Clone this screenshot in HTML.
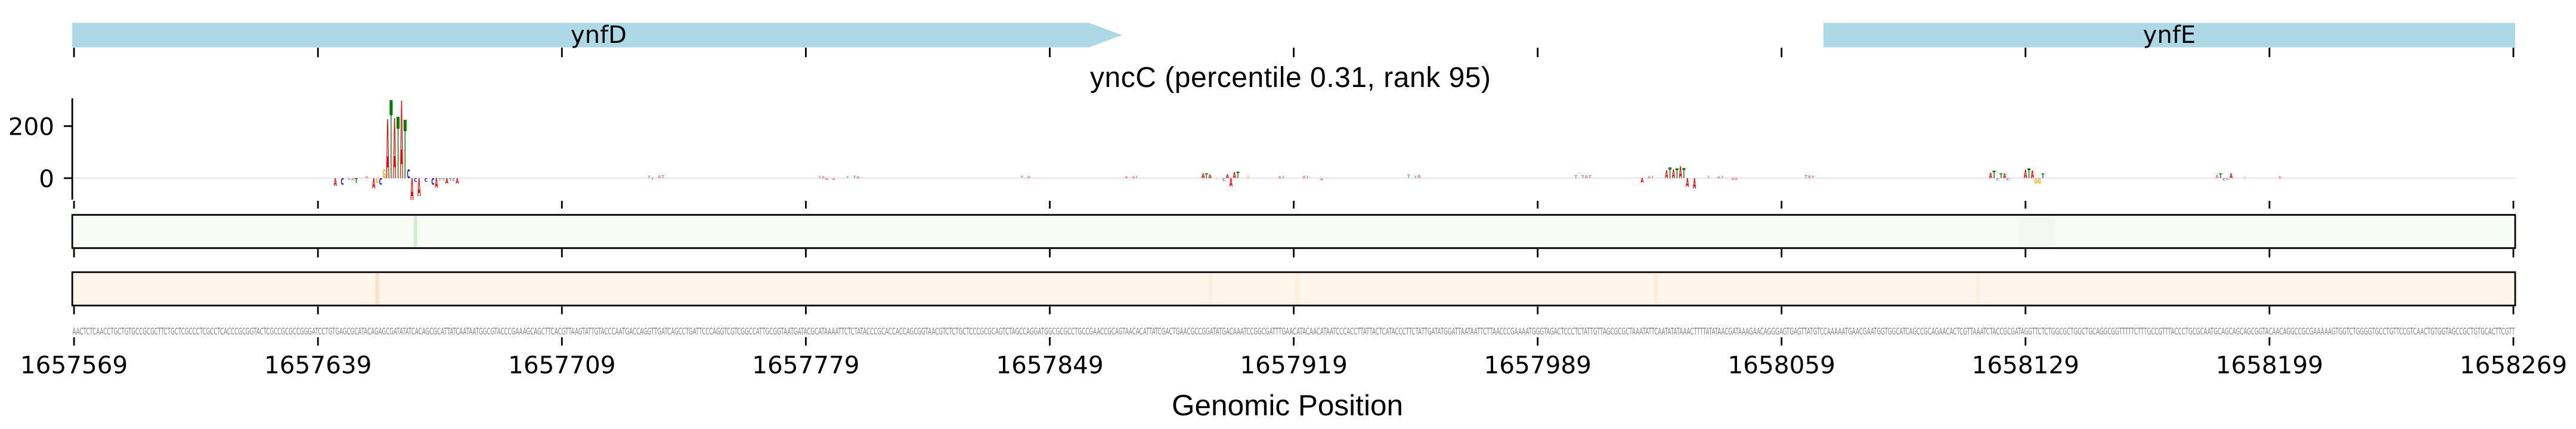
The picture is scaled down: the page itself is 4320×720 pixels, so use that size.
<!DOCTYPE html>
<html><head><meta charset="utf-8"><style>
html,body{margin:0;padding:0;background:#fff;}
svg{display:block;}
.L{font-family:"DejaVu Sans",sans-serif;font-weight:bold;font-size:10px;}
.a{fill:#ff0000}.c{fill:#0000ff}.g{fill:#ffa500}.t{fill:#008000}
.f{opacity:.55}
.tk{font-family:"DejaVu Sans",sans-serif;font-size:40.5px;fill:#000;}
.gl{font-family:"DejaVu Sans",sans-serif;font-size:40px;fill:#000;}
.ttl{font-family:"Liberation Sans",Arial,sans-serif;font-size:48px;fill:#000;}
.sq{font-family:"DejaVu Sans",sans-serif;font-size:16px;fill:#7f7f7f;}
</style></head><body>
<svg width="4320" height="720" viewBox="0 0 4320 720" xmlns="http://www.w3.org/2000/svg">
<rect x="0" y="0" width="4320" height="720" fill="#fff"/>
<!-- gene track -->
<polygon points="121.2,38.3 1826,38.3 1882,58.9 1826,79.5 121.2,79.5" fill="#add8e6"/>
<rect x="3058" y="38.3" width="1160" height="41.2" fill="#add8e6"/>
<text class="gl" x="1004" y="72" text-anchor="middle">ynfD</text>
<text class="gl" x="3638" y="72" text-anchor="middle">ynfE</text>
<path d="M124.1 80V96M533.2 80V96M942.3 80V96M1351.4 80V96M1760.5 80V96M2169.6 80V96M2578.7 80V96M2987.7 80V96M3396.8 80V96M3805.9 80V96M4215 80V96" stroke="#000" stroke-width="2.8" fill="none"/>
<!-- title -->
<text class="ttl" x="1828" y="146" textLength="672" lengthAdjust="spacing">yncC (percentile 0.31, rank 95)</text>
<!-- signal axis -->
<line x1="121.2" y1="299" x2="4218" y2="299" stroke="#e4dcee" stroke-width="1.6"/>
<path d="M121.2 165V335M107 299H121.2M107 211.7H121.2" stroke="#000" stroke-width="2.8" fill="none"/>
<text class="tk" x="91" y="226.5" text-anchor="end">200</text>
<text class="tk" x="91" y="314" text-anchor="end">0</text>
<path d="M124.1 337V350M533.2 337V350M942.3 337V350M1351.4 337V350M1760.5 337V350M2169.6 337V350M2578.7 337V350M2987.7 337V350M3396.8 337V350M3805.9 337V350M4215 337V350" stroke="#000" stroke-width="2.8" fill="none"/>
<!-- logo letters: peak -->
<g class="L">
<text class="a" transform="translate(559.8 312) scale(.672 1.78)">A</text>
<text class="c" transform="translate(571.5 310) scale(.708 1.51)">C</text>
<text class="c f" transform="translate(583.2 302) scale(.708 .41)">C</text>
<text class="a f" transform="translate(589.0 303) scale(.672 .55)">A</text>
<text class="t" transform="translate(594.9 307) scale(.761 1.10)">T</text>
<text class="a f" transform="translate(612.4 299) scale(.672 .41)">A</text>
<text class="a" transform="translate(624.1 316) scale(.672 2.33)">A</text>
<text class="g" transform="translate(629.9 307) scale(.633 1.10)">G</text>
<text class="c" transform="translate(635.8 310) scale(.708 1.51)">C</text>
<text class="g" transform="translate(641.6 299) scale(.633 1.92)">G</text>
<text class="a" transform="translate(647.5 299) scale(.672 13.58)">A</text>
<text class="t" transform="translate(653.3 299) scale(.761 17.97)">T</text>
<text class="a" transform="translate(659.1 299) scale(.672 13.85)">A</text>
<text class="t" transform="translate(665.0 299) scale(.761 14.13)">T</text>
<text class="a" transform="translate(670.8 299) scale(.672 17.83)">A</text>
<text class="t" transform="translate(676.7 299) scale(.761 13.44)">T</text>
<text class="c" transform="translate(682.5 299) scale(.708 1.92)">C</text>
<text class="a" transform="translate(688.4 336) scale(.672 5.08)">A</text>
<text class="c" transform="translate(694.2 305) scale(.708 .82)">C</text>
<text class="a" transform="translate(700.1 329) scale(.672 4.12)">A</text>
<text class="c" transform="translate(711.7 305) scale(.708 .82)">C</text>
<text class="c" transform="translate(723.4 310) scale(.708 1.51)">C</text>
<text class="a" transform="translate(729.3 315) scale(.672 2.19)">A</text>
<text class="t f" transform="translate(735.1 304) scale(.761 .69)">T</text>
<text class="t f" transform="translate(741.0 304) scale(.761 .69)">T</text>
<text class="a" transform="translate(746.8 308) scale(.672 1.23)">A</text>
<text class="t f" transform="translate(752.7 304) scale(.761 .69)">T</text>
<text class="c f" transform="translate(758.5 304) scale(.708 .69)">C</text>
<text class="a" transform="translate(764.3 308) scale(.672 1.23)">A</text>
<!-- small clusters -->
<text class="t f" transform="translate(1085.8 299) scale(.761 .55)">T</text>
<text class="t f" transform="translate(1091.6 302) scale(.761 .41)">T</text>
<text class="a f" transform="translate(1103.3 299) scale(.672 .69)">A</text>
<text class="t f" transform="translate(1109.1 299) scale(.761 .69)">T</text>
<text class="t f" transform="translate(1372.1 299) scale(.761 .41)">T</text>
<text class="a f" transform="translate(1377.9 299) scale(.672 .41)">A</text>
<text class="a f" transform="translate(1383.8 302) scale(.672 .41)">A</text>
<text class="a f" transform="translate(1395.5 302) scale(.672 .41)">A</text>
<text class="t f" transform="translate(1418.9 299) scale(.761 .41)">T</text>
<text class="t f" transform="translate(1430.6 299) scale(.761 .55)">T</text>
<text class="a f" transform="translate(1436.4 299) scale(.672 .41)">A</text>
<text class="t f" transform="translate(1711.1 299) scale(.761 .55)">T</text>
<text class="a f" transform="translate(1722.8 299) scale(.672 .55)">A</text>
<text class="a f" transform="translate(1886.4 299) scale(.672 .41)">A</text>
<text class="a f" transform="translate(1898.1 299) scale(.672 .41)">A</text>
<text class="t f" transform="translate(1903.9 299) scale(.761 .41)">T</text>
<text class="a" transform="translate(2015.0 299) scale(.672 1.06)">A</text>
<text class="t" transform="translate(2020.8 299) scale(.761 1.06)">T</text>
<text class="a" transform="translate(2026.6 299) scale(.672 .82)">A</text>
<text class="g f" transform="translate(2038.3 301) scale(.633 .27)">G</text>
<text class="c f" transform="translate(2050.0 304) scale(.708 .69)">C</text>
<text class="a" transform="translate(2055.9 299) scale(.672 .92)">A</text>
<text class="a" transform="translate(2061.7 313) scale(.672 1.92)">A</text>
<text class="a" transform="translate(2067.6 299) scale(.672 1.37)">A</text>
<text class="t" transform="translate(2073.4 299) scale(.761 1.51)">T</text>
<text class="g f" transform="translate(2090.9 299) scale(.633 .69)">G</text>
<text class="a f" transform="translate(2143.5 299) scale(.672 .41)">A</text>
<text class="t f" transform="translate(2149.4 299) scale(.761 .41)">T</text>
<text class="a f" transform="translate(2184.4 299) scale(.672 .55)">A</text>
<text class="t f" transform="translate(2190.2 299) scale(.761 .41)">T</text>
<text class="a f" transform="translate(2213.7 303) scale(.672 .55)">A</text>
<text class="t f" transform="translate(2359.8 299) scale(.761 .78)">T</text>
<text class="t f" transform="translate(2371.4 299) scale(.761 .55)">T</text>
<text class="a f" transform="translate(2377.3 299) scale(.672 .82)">A</text>
<text class="t f" transform="translate(2640.3 299) scale(.761 .69)">T</text>
<text class="t f" transform="translate(2652.0 299) scale(.761 .69)">T</text>
<text class="a f" transform="translate(2657.8 299) scale(.672 .69)">A</text>
<text class="t f" transform="translate(2663.7 299) scale(.761 .69)">T</text>
<text class="a" transform="translate(2751.3 306.7) scale(.672 1.06)">A</text>
<text class="a f" transform="translate(2763.0 299) scale(.672 .41)">A</text>
<text class="t f" transform="translate(2768.8 299) scale(.761 .41)">T</text>
<text class="a" transform="translate(2792.2 299) scale(.672 1.82)">A</text>
<text class="t" transform="translate(2798.0 299) scale(.761 2.51)">T</text>
<text class="a" transform="translate(2803.9 299) scale(.672 2.06)">A</text>
<text class="t" transform="translate(2809.7 299) scale(.761 2.19)">T</text>
<text class="a" transform="translate(2815.6 299) scale(.672 2.74)">A</text>
<text class="t" transform="translate(2821.4 299) scale(.761 2.29)">T</text>
<text class="a" transform="translate(2827.3 313.3) scale(.672 1.96)">A</text>
<text class="a" transform="translate(2839.0 316.7) scale(.672 2.43)">A</text>
<text class="t f" transform="translate(2862.3 299) scale(.761 .41)">T</text>
<text class="a f" transform="translate(2879.8 299) scale(.672 .41)">A</text>
<text class="t f" transform="translate(2885.7 299) scale(.761 .41)">T</text>
<text class="a f" transform="translate(2903.2 302) scale(.672 .41)">A</text>
<text class="a f" transform="translate(2909.0 302) scale(.672 .41)">A</text>
<text class="t f" transform="translate(3026.0 299) scale(.761 .69)">T</text>
<text class="a f" transform="translate(3031.8 299) scale(.672 .69)">A</text>
<text class="t f" transform="translate(3037.7 299) scale(.761 .55)">T</text>
<text class="a" transform="translate(3335.7 299) scale(.672 1.23)">A</text>
<text class="t" transform="translate(3341.5 299) scale(.761 1.65)">T</text>
<text class="c f" transform="translate(3347.4 303) scale(.708 .55)">C</text>
<text class="t" transform="translate(3353.2 299) scale(.761 1.10)">T</text>
<text class="a" transform="translate(3359.1 299) scale(.672 1.10)">A</text>
<text class="c f" transform="translate(3364.9 303) scale(.708 .55)">C</text>
<text class="a" transform="translate(3394.1 299) scale(.672 1.92)">A</text>
<text class="t" transform="translate(3400.0 299) scale(.761 2.19)">T</text>
<text class="a" transform="translate(3405.8 299) scale(.672 1.78)">A</text>
<text class="g" transform="translate(3411.7 308) scale(.633 1.23)">G</text>
<text class="g" transform="translate(3417.5 308) scale(.633 1.23)">G</text>
<text class="t" transform="translate(3423.4 299) scale(.761 1.10)">T</text>
<text class="a f" transform="translate(3715.6 299) scale(.672 .92)">A</text>
<text class="t" transform="translate(3721.4 299) scale(.761 1.06)">T</text>
<text class="c f" transform="translate(3727.3 303) scale(.708 .55)">C</text>
<text class="c f" transform="translate(3733.1 302) scale(.708 .41)">C</text>
<text class="a" transform="translate(3739.0 299) scale(.672 1.06)">A</text>
<text class="g f" transform="translate(3762.3 299) scale(.633 .41)">G</text>
<text class="a f" transform="translate(3820.8 299) scale(.672 .41)">A</text>
</g>
<!-- green track -->
<rect x="121.2" y="360.6" width="4096.8" height="55.8" fill="#f7fcf5"/>
<rect x="693.9" y="360.6" width="5.8" height="55.8" fill="#d3eecd"/>
<rect x="3386" y="360.6" width="60" height="55.8" fill="#f3f9f0"/>
<rect x="121.2" y="360.6" width="4096.8" height="55.8" fill="none" stroke="#000" stroke-width="2.8"/>
<path d="M124.1 418V432M533.2 418V432M942.3 418V432M1351.4 418V432M1760.5 418V432M2169.6 418V432M2578.7 418V432M2987.7 418V432M3396.8 418V432M3805.9 418V432M4215 418V432" stroke="#000" stroke-width="2.8" fill="none"/>
<!-- orange track -->
<rect x="121.2" y="456.8" width="4096.8" height="56" fill="#fff5eb"/>
<rect x="629.6" y="456.8" width="5.8" height="56" fill="#fee0c2"/>
<rect x="2027" y="456.8" width="5.8" height="56" fill="#fdeedf"/>
<rect x="2173" y="456.8" width="5.8" height="56" fill="#fdeedf"/>
<rect x="2774" y="456.8" width="5.8" height="56" fill="#fdecdb"/>
<rect x="3314" y="456.8" width="5.8" height="56" fill="#fdeedf"/>
<rect x="121.2" y="456.8" width="4096.8" height="56" fill="none" stroke="#000" stroke-width="2.8"/>
<path d="M124.1 514.5V527.5M533.2 514.5V527.5M942.3 514.5V527.5M1351.4 514.5V527.5M1760.5 514.5V527.5M2169.6 514.5V527.5M2578.7 514.5V527.5M2987.7 514.5V527.5M3396.8 514.5V527.5M3805.9 514.5V527.5M4215 514.5V527.5" stroke="#000" stroke-width="2.8" fill="none"/>
<!-- sequence -->
<text class="sq" x="121.5" y="561.5" textLength="4096" lengthAdjust="spacingAndGlyphs">AACTCTCAACCTGCTGTGCCGCGCTTCTGCTCGCCCTCGCCTCACCCGCGGTACTCGCCGCGCCGGGATCCTGTGAGCGCATACAGAGCGATATATCACAGCGCATTATCAATAATGGCGTACCCGAAAGCAGCTTCACGTTAAGTATTGTACCCAATGACCAGGTTGATCAGCCTGATTCCCAGGTCGTCGGCCATTGCGGTAATGATACGCATAAAATTCTCTATACCCGCACCACCAGCGGTAACGTCTCTGCTCCCGCGCAGTCTAGCCAGGATGGCGCGCCTGCCGAACCGCAGTAACACATTATCGACTGAACGCCGGATATGACAAATCCGGCGATTTGAACATACAACATAATCCCACCTTATTACTCATACCCTTCTATTGATATGGATTAATAATTCTTAACCCGAAAATGGGTAGACTCCCTCTATTGTTAGCGCGCTAAATATTCAATATATAAACTTTTATATAACGATAAAGAACAGGGAGTGAGTTATGTCCAAAAATGAACGAATGGTGGCATCAGCCGCAGAACACTCGTTAAATCTACCGCGATAGGTTCTCTGGCGCTGGCTGCAGGCGGTTTTTCTTTGCCGTTTACCCTGCGCAATGCAGCAGCAGCGGTACAACAGGCCGCGAAAAAGTGGTCTGGGGTGCCTGTTCCGTCAACTGTGGTAGCCGCTGTGCACTTCGTT</text>
<path d="M124.1 566V580M533.2 566V580M942.3 566V580M1351.4 566V580M1760.5 566V580M2169.6 566V580M2578.7 566V580M2987.7 566V580M3396.8 566V580M3805.9 566V580M4215 566V580" stroke="#000" stroke-width="2.8" fill="none"/>
<g class="tk" text-anchor="middle">
<text x="124.1" y="626.7">1657569</text>
<text x="533.2" y="626.7">1657639</text>
<text x="942.3" y="626.7">1657709</text>
<text x="1351.4" y="626.7">1657779</text>
<text x="1760.5" y="626.7">1657849</text>
<text x="2169.6" y="626.7">1657919</text>
<text x="2578.7" y="626.7">1657989</text>
<text x="2987.7" y="626.7">1658059</text>
<text x="3396.8" y="626.7">1658129</text>
<text x="3805.9" y="626.7">1658199</text>
<text x="4215" y="626.7">1658269</text>
</g>
<text class="ttl" x="1965" y="697" style="font-size:49.5px" textLength="388" lengthAdjust="spacing">Genomic Position</text>
</svg>
</body></html>
